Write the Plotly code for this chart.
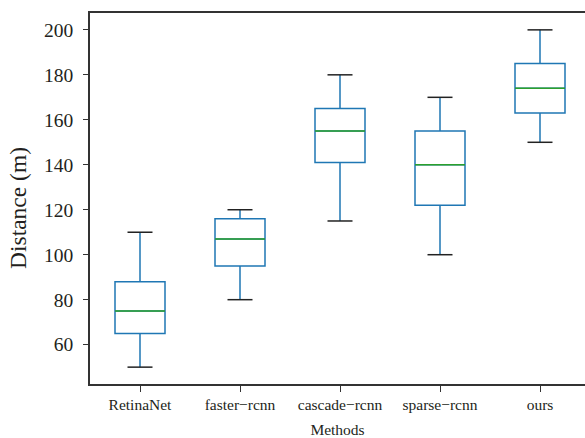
import plotly.graph_objects as go

methods = ["RetinaNet", "faster\u2212rcnn", "cascade\u2212rcnn", "sparse\u2212rcnn", "ours"]
lower = [50, 80, 115, 100, 150]
q1 = [65, 95, 141, 122, 163]
median = [75, 107, 155, 140, 174]
q3 = [88, 116, 165, 155, 185]
upper = [110, 120, 180, 170, 200]

pos = list(range(1, len(methods) + 1))
box_w = 0.5
cap_w = 0.25

fig = go.Figure()
fig.add_trace(go.Box(
    x=pos, q1=q1, median=median, q3=q3, lowerfence=lower, upperfence=upper,
    width=box_w, whiskerwidth=0.0001, fillcolor="rgba(0,0,0,0)",
    line=dict(color="#1f77b4", width=1.5), boxpoints=False, showlegend=False,
    hoverinfo="skip",
))

# median lines (green)
mx, my = [], []
for p, m in zip(pos, median):
    mx += [p - box_w / 2, p + box_w / 2, None]
    my += [m, m, None]
fig.add_trace(go.Scatter(x=mx, y=my, mode="lines", line=dict(color="#2ca02c", width=1.5),
                         showlegend=False, hoverinfo="skip"))

# caps (black)
cx, cy = [], []
for p, lo, hi in zip(pos, lower, upper):
    for v in (lo, hi):
        cx += [p - cap_w / 2, p + cap_w / 2, None]
        cy += [v, v, None]
fig.add_trace(go.Scatter(x=cx, y=cy, mode="lines", line=dict(color="#222222", width=1.5),
                         showlegend=False, hoverinfo="skip"))

font_family = "Liberation Serif"
L, T, B, W, H = 90, 13, 54, 585, 438
plot_w = W - L
plot_h = H - T - B

fig.update_layout(
    width=W, height=H,
    margin=dict(l=L, r=0, t=T, b=B),
    plot_bgcolor="white", paper_bgcolor="white",
    font=dict(family=font_family, color="#231f20"),
    xaxis=dict(
        range=[0.5, 5.45], tickmode="array", tickvals=pos, ticktext=methods,
        showline=True, linecolor="#333333", linewidth=1.5, mirror=True,
        ticks="outside", ticklen=6, tickcolor="#333333", showgrid=False, zeroline=False,
        tickfont=dict(size=15.5, family=font_family),
        title=dict(text="Methods", font=dict(size=15.5, family=font_family), standoff=13),
    ),
    yaxis=dict(
        range=[42.5, 207.5], tickvals=[60, 80, 100, 120, 140, 160, 180, 200],
        showline=True, linecolor="#333333", linewidth=1.5,
        ticks="outside", ticklen=5, tickcolor="#333333", showgrid=False, zeroline=False,
        tickfont=dict(size=19.5, family=font_family), ticklabelstandoff=6,
    ),
    annotations=[dict(
        text="Distance (m)", textangle=-90, showarrow=False,
        xref="paper", yref="paper",
        x=(18 - L) / plot_w, y=(H - B - 208) / plot_h,
        xanchor="center", yanchor="middle",
        font=dict(size=23.5, family=font_family, color="#231f20"),
    )],
)

fig.write_html("out.html", config={"displayModeBar": False},
               post_script="document.body.style.margin='0';")
